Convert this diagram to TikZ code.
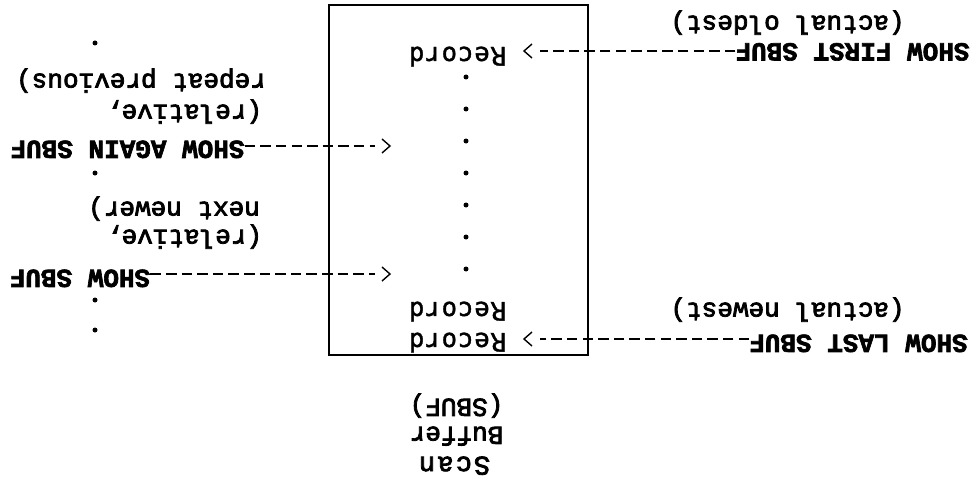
\documentclass[tikz,border=0pt]{standalone}
\usepackage{fontspec}
\newfontfamily\regmono[FakeBold=3]{Liberation Mono}
\newfontfamily\boldmono[FakeBold=2.5]{Liberation Mono Bold}
\newfontfamily\recfont[LetterSpace=4,FakeBold=1.5]{DejaVu Sans Mono}
\newfontfamily\scanfont[LetterSpace=8,FakeBold=3]{Liberation Mono}
\tikzset{
  txt/.style={font=\regmono\fontsize{26}{31}\selectfont, inner sep=0pt, rotate=180},
  cmd/.style={font=\boldmono\fontsize{26}{31}\selectfont, inner sep=0pt, rotate=180},
  rec/.style={font=\recfont\fontsize{25.5}{30}\selectfont, inner sep=0pt, rotate=180},
  scn/.style={font=\scanfont\fontsize{27}{31}\selectfont, inner sep=0pt, rotate=180},
  dashline/.style={line width=2.8pt, dash pattern=on 10.5pt off 5.1pt},
  chev/.style={line width=1.4pt, line join=miter},
  dotm/.style={circle, fill, inner sep=0pt, minimum size=5pt},
  boxline/.style={line width=2.4pt},
}
\begin{document}
\begin{tikzpicture}[x=1pt, y=-1pt]
\fill[white] (0,0) rectangle (979,484);
\useasboundingbox (0,0) rectangle (979,484);

% the scan buffer box
\node[draw, boxline, minimum width=259pt, minimum height=350pt, inner sep=0pt] (sbuf) at (458.5,180) {};

% records and dots inside
\node[rec] (rec1) at (457.5,53) {\strut Record};
\node[rec] (rec2) at (457.5,308) {\strut Record};
\node[rec] (rec3) at (457.5,339) {\strut Record};
\foreach \yy [count=\i] in {77,109,141,173,205,237,269}
  \node[dotm] (bd\i) at (466,\yy) {};

% title
\node[txt] (tsbuf) at (456.5,405) {\strut(SBUF)};
\node[txt] (tbuffer) at (456.5,433) {\strut Buffer};
\node[scn] (tscan) at (454.5,463) {\strut Scan};

% right side commands
\node[cmd] (showfirst) at (852.5,49.5) {\strut SHOW FIRST SBUF};
\node[txt] (oldest) at (787.5,22) {\strut(actual oldest)};
\node[cmd] (showlast) at (858.5,341) {\strut SHOW LAST SBUF};
\node[txt] (newest) at (787.5,309) {\strut(actual newest)};

% left side commands
\node[cmd] (showagain) at (127.5,147) {\strut SHOW AGAIN SBUF};
\node[txt] (rel1) at (184,111) {\strut(relative,};
\node[txt] (rep) at (141,80) {\strut repeat previous)};
\node[cmd] (showsbuf) at (80,276) {\strut SHOW SBUF};
\node[txt] (rel2) at (184,236) {\strut(relative,};
\node[txt] (newer) at (174,208) {\strut next newer)};

% left dots
\node[dotm] (ld1) at (95,43) {};
\node[dotm] (ld2) at (95,173) {};
\node[dotm] (ld3) at (95,300) {};
\node[dotm] (ld4) at (95,330) {};

% connector ends
\coordinate (e1) at (540,51);
\coordinate (e2) at (540,339);
\coordinate (e3) at (375,146);
\coordinate (e4) at (375,274);
\coordinate (t1) at (524,51);
\coordinate (t2) at (524,339);
\coordinate (t3) at (390,146);
\coordinate (t4) at (390,274);

% dashed connectors
\draw[dashline] (showfirst.east |- e1) -- (e1);
\draw[dashline] (showlast.east |- e2) -- (e2);
\draw[dashline] (showagain.west |- e3) -- (e3);
\draw[dashline] (showsbuf.west |- e4) -- (e4);

% chevrons
\draw[chev] (t1) ++(8,-7) -- (t1) -- ++(8,7);
\draw[chev] (t2) ++(8,-7) -- (t2) -- ++(8,7);
\draw[chev] (t3) ++(-8,-7) -- (t3) -- ++(-8,7);
\draw[chev] (t4) ++(-8,-7) -- (t4) -- ++(-8,7);
\end{tikzpicture}
\end{document}
